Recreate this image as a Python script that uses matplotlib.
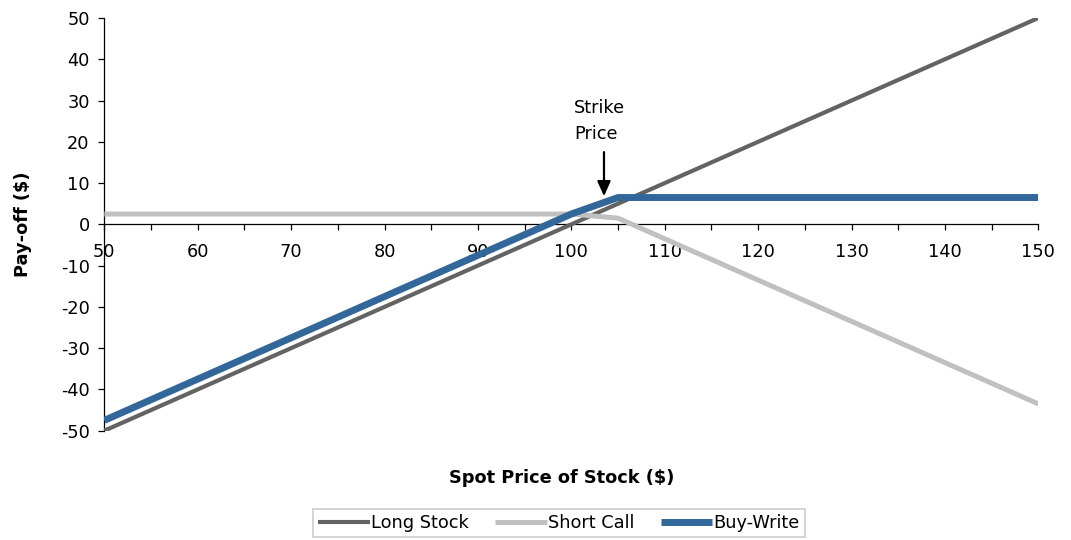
import matplotlib

matplotlib.use("Agg")
import matplotlib.pyplot as plt
from matplotlib.ticker import MultipleLocator

plt.rcParams["font.family"] = "DejaVu Sans"
plt.rcParams["axes.unicode_minus"] = False

# spot prices of the stock at expiry
spot = [50, 60, 70, 80, 90, 100, 105, 110, 120, 130, 140, 150]

# pay-off of each leg at those prices
long_stock = [-50, -40, -30, -20, -10, 0, 5, 10, 20, 30, 40, 50]
short_call = [2.5, 2.5, 2.5, 2.5, 2.5, 2.5, 1.5, -3.5, -13.5, -23.5, -33.5, -43.5]
buy_write = [-47.5, -37.5, -27.5, -17.5, -7.5, 2.5, 6.5, 6.5, 6.5, 6.5, 6.5, 6.5]

strike = 103.5
FS = 12.8

W, H = 1071, 540
fig = plt.figure(figsize=(W / 100, H / 100), dpi=100)
ax = fig.add_axes([104.3 / W, 1 - 430.7 / H, 934 / W, 412.7 / H])

ax.plot(spot, long_stock, color="#636363", lw=3.0, solid_capstyle="butt", label="Long Stock")
ax.plot(spot, short_call, color="#c0c0c0", lw=3.6, solid_capstyle="butt", label="Short Call")
ax.plot(spot, buy_write, color="#336699", lw=5.0, solid_capstyle="butt", label="Buy-Write")

ax.set_xlim(50, 150)
ax.set_ylim(-50, 50)
ax.xaxis.set_major_locator(MultipleLocator(10))
ax.xaxis.set_minor_locator(MultipleLocator(5))
ax.yaxis.set_major_locator(MultipleLocator(10))

ax.spines["top"].set_visible(False)
ax.spines["right"].set_visible(False)
ax.spines["bottom"].set_position(("data", 0))
for side in ("left", "bottom"):
    ax.spines[side].set_linewidth(0.9)
    ax.spines[side].set_zorder(0)

ax.tick_params(axis="x", which="both", direction="out", length=4.5, width=0.9,
               labelsize=FS, pad=9)
ax.tick_params(axis="y", direction="out", length=4.5, width=0.9, labelsize=FS, pad=6)

fig.text(23 / W, 1 - 224 / H, "Pay-off ($)", rotation=90, fontsize=FS,
         fontweight="bold", ha="center", va="center")
fig.text(561.7 / W, 1 - 478 / H, "Spot Price of Stock ($)", fontsize=FS,
         fontweight="bold", ha="center", va="center")

ax.annotate("", xy=(strike, 6.8), xytext=(strike, 17.5),
            arrowprops=dict(arrowstyle="-|>,head_length=0.9,head_width=0.4",
                            color="black", lw=1.6, shrinkA=0, shrinkB=0))
ax.text(100.3, 25.0, "Strike\nPrice", fontsize=FS, ha="left", va="center",
        linespacing=1.6)

leg = fig.legend(loc="center", bbox_to_anchor=(559 / W, 1 - 523 / H), ncol=3,
                 fontsize=FS, frameon=True, fancybox=False, handlelength=2.9,
                 handletextpad=0.05, columnspacing=1.5, borderpad=0.3)
leg.get_frame().set_edgecolor("#c0c0c0")
leg.get_frame().set_linewidth(1.2)

fig.savefig("out.png", dpi=100)
